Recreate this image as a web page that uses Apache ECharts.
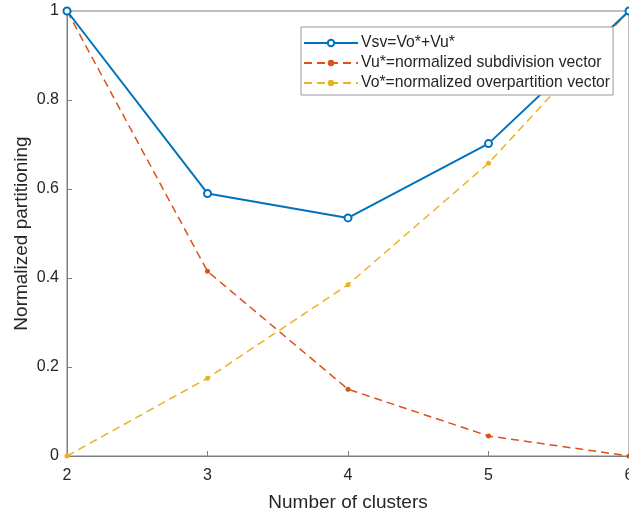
<!DOCTYPE html>
<html><head><meta charset="utf-8">
<script src="https://cdn.jsdelivr.net/npm/echarts@6/dist/echarts.min.js"></script>
<style>html,body{margin:0;padding:0;background:#fff}#c{width:629px;height:513px}</style>
</head><body><div id="c"></div>
<script>
const clusters = [2, 3, 4, 5, 6];
const vsv = [1.0, 0.59, 0.535, 0.702, 1.0];
const vu = [1.0, 0.415, 0.15, 0.045, 0.0];
const vo = [0.0, 0.175, 0.385, 0.658, 1.0];
const xTicks = [2, 3, 4, 5, 6];
const yTicks = [0, 0.2, 0.4, 0.6, 0.8, 1];
const names = ['Vsv=Vo*+Vu*', 'Vu*=normalized subdivision vector', 'Vo*=normalized overpartition vector'];

const pair = (ys) => clusters.map((x, i) => [x, ys[i]]);
const chart = echarts.init(document.getElementById('c'), null, {renderer: 'canvas'});
const axisColor = '#7f7f7f';
const textColor = '#262626';
const font = 'Liberation Sans, Arial, sans-serif';
chart.setOption({
  animation: false,
  grid: {left: 67, right: 0, top: 11, bottom: 57, show: true, borderColor: axisColor, borderWidth: 1,
         outerBoundsMode: 'none', containLabel: false},
  legend: {
    orient: 'vertical', left: 301, top: 27, itemWidth: 54, itemHeight: 8, itemGap: 4,
    padding: [8, 3, 4, 2], backgroundColor: '#fff', borderColor: '#999', borderWidth: 1,
    textStyle: {fontFamily: font, fontSize: 15.75, color: textColor, padding: [0, 0, 0, -2]},
    data: names
  },
  xAxis: {
    type: 'value', min: 2, max: 6, interval: 1,
    name: 'Number of clusters', nameLocation: 'middle', nameGap: 37, nameMoveOverlap: false,
    nameTextStyle: {fontFamily: font, fontSize: 19, color: textColor},
    axisLine: {lineStyle: {color: axisColor}},
    axisTick: {inside: true, length: 5, lineStyle: {color: axisColor}},
    axisLabel: {fontFamily: font, fontSize: 16, color: textColor, margin: 12,
      formatter: v => xTicks.includes(v) ? String(v) : ''},
    splitLine: {show: false}
  },
  yAxis: {
    type: 'value', min: 0, max: 1, interval: 0.2,
    name: 'Normalized partitioning', nameLocation: 'middle', nameGap: 36, nameMoveOverlap: false,
    nameTextStyle: {fontFamily: font, fontSize: 19, color: textColor},
    axisLine: {show: true, lineStyle: {color: axisColor}},
    axisTick: {show: true, inside: true, length: 5, lineStyle: {color: axisColor}},
    axisLabel: {fontFamily: font, fontSize: 16, color: textColor, margin: 8,
      formatter: v => { const t = yTicks.find(y => Math.abs(y - v) < 1e-9); return t === undefined ? '' : String(t); }},
    splitLine: {show: false}
  },
  series: [
    {name: names[0], type: 'line', data: pair(vsv), color: '#0072BD',
     lineStyle: {width: 2, color: '#0072BD'}, symbol: 'emptyCircle', symbolSize: 7,
     itemStyle: {color: '#0072BD', borderWidth: 1.5}, z: 3},
    {name: names[1], type: 'line', data: pair(vu), color: '#D95319',
     lineStyle: {width: 1.5, type: [8, 5], color: '#D95319'}, symbol: 'circle', symbolSize: 5,
     itemStyle: {color: '#D95319'}, z: 2},
    {name: names[2], type: 'line', data: pair(vo), color: '#EDB120',
     lineStyle: {width: 1.5, type: [8, 5], color: '#EDB120'}, symbol: 'circle', symbolSize: 5,
     itemStyle: {color: '#EDB120'}, z: 2}
  ]
});
</script></body></html>
